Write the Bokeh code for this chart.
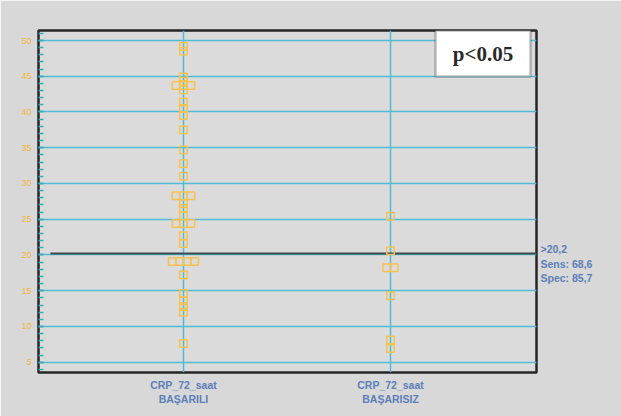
from bokeh.plotting import figure
from bokeh.models import (SingleIntervalTicker, FixedTicker, Label, BoxAnnotation, Range1d,
                          ColumnDataSource, LinearAxis, CustomJSTickFormatter)
from bokeh.embed import file_html
from bokeh.resources import INLINE
from collections import Counter

# ---- data ----
categories = ["CRP_72_saat\nBAŞARILI", "CRP_72_saat\nBAŞARISIZ"]
basarili = [49.2, 48.5, 44.9, 44.3, 43.7, 43.7, 43.7, 43.1, 41.4, 40.5, 39.5, 37.5,
            34.7, 32.8, 31.0, 28.3, 28.3, 28.3, 27.2, 26.5, 25.5, 24.4, 24.4, 24.4,
            22.7, 21.6, 19.1, 19.1, 19.1, 19.1, 17.2, 14.6, 13.6, 12.8, 12.0, 7.6]
basarisiz = [25.4, 20.6, 18.2, 18.2, 14.3, 8.1, 6.9]
cutoff = 20.2
stats = [">20,2", "Sens: 68,6", "Spec: 85,7"]
p_text = "p<0.05"

X0, X1 = 0.30, 2.705
Y0, Y1 = 3.56, 51.4
W, H = 621, 416
ML, MR, MT, MB = 38, 85, 30, 44
px_per_x = (W - ML - MR) / (X1 - X0)
px_per_y = (H - MT - MB) / (Y1 - Y0)

def spread(vals, cat):
    cnt = Counter(vals)
    seen = Counter()
    xs = []
    dx = 7.5 / px_per_x
    for v in vals:
        n = cnt[v]
        i = seen[v]
        seen[v] += 1
        xs.append(cat + (i - (n - 1) / 2) * dx)
    return xs

xs = spread(basarili, 1) + spread(basarisiz, 2)
ys = basarili + basarisiz
src = ColumnDataSource(dict(x=xs, y=ys))

p = figure(width=W, height=H, output_backend="svg", toolbar_location=None,
           x_range=Range1d(X0, X1), y_range=Range1d(Y0, Y1),
           min_border_left=ML, min_border_right=MR, min_border_top=MT, min_border_bottom=MB)
p.background_fill_color = "#dbdbdb"
p.border_fill_color = "#d8d8d8"
p.outline_line_color = "#262626"
p.outline_line_width = 2.5

# y axis
p.yaxis.ticker = SingleIntervalTicker(interval=5, num_minor_ticks=5)
p.yaxis.axis_line_color = None
p.yaxis.major_tick_in = 5
p.yaxis.major_tick_out = 0
p.yaxis.minor_tick_in = 5
p.yaxis.minor_tick_out = 0
p.yaxis.major_tick_line_color = "#35aeb5"
p.yaxis.minor_tick_line_color = "#35aeb5"
p.yaxis.major_tick_line_width = 1.5
p.yaxis.minor_tick_line_width = 1.5
p.yaxis.major_label_text_color = "#f2b53c"
p.yaxis.major_label_text_font = "Liberation Sans"
p.yaxis.major_label_text_font_size = "9px"
p.yaxis.major_label_standoff = 7

# x axis
p.xaxis.ticker = FixedTicker(ticks=[1, 2])
p.xaxis.major_label_overrides = {1: categories[0], 2: categories[1]}
p.xaxis.axis_line_color = None
p.xaxis.major_tick_line_color = None
p.xaxis.minor_tick_line_color = None
p.xaxis.major_label_text_color = "#5b7fb8"
p.xaxis.major_label_text_font = "Liberation Sans"
p.xaxis.major_label_text_font_style = "bold"
p.xaxis.major_label_text_font_size = "10.5px"
p.xaxis.major_label_standoff = 0

# right-side annotation text as a tick-labelled axis
offsets_px = [5, -10, -24]
right_ticks = [cutoff + o / px_per_y for o in offsets_px]
rax = LinearAxis(ticker=FixedTicker(ticks=right_ticks),
                 formatter=CustomJSTickFormatter(args=dict(labels=stats),
                                                 code="return labels[index];"))
rax.axis_line_color = None
rax.major_tick_line_color = None
rax.major_tick_in = 0
rax.major_tick_out = 0
rax.minor_tick_line_color = None
rax.major_label_text_color = "#5b7fb8"
rax.major_label_text_font = "Liberation Sans"
rax.major_label_text_font_style = "bold"
rax.major_label_text_font_size = "10.5px"
rax.major_label_standoff = 4
p.add_layout(rax, "right")

# grids
p.ygrid.ticker = SingleIntervalTicker(interval=5)
p.xgrid.ticker = FixedTicker(ticks=[1, 2])
for g in (p.xgrid, p.ygrid):
    g.grid_line_color = "#4fbcd6"
    g.grid_line_width = 1.5

# cutoff line
p.line([X0 + 12.0 / px_per_x, X1], [cutoff, cutoff], line_color="#3f4a4f", line_width=2)

# points
p.scatter("x", "y", source=src, marker="square", size=7.5, fill_color=None,
          line_color="#f6c24e", line_width=1.5)

# p-value box
box = BoxAnnotation(left=X1 - 101.0 / px_per_x, right=X1 - 6.0 / px_per_x,
                    bottom=Y1 - 46.0 / px_per_y, top=Y1,
                    fill_color="white", fill_alpha=1.0,
                    line_color="#2a2a2a", line_width=2.5)
p.add_layout(box)
p.add_layout(Label(x=X1 - 53.5 / px_per_x, y=Y1 - 23.0 / px_per_y, text=p_text,
                   text_align="center", text_baseline="middle",
                   text_font="Liberation Serif", text_font_style="bold",
                   text_font_size="21px", text_color="#2a2a2a"))

open("out.html", "w").write(file_html(p, INLINE))
